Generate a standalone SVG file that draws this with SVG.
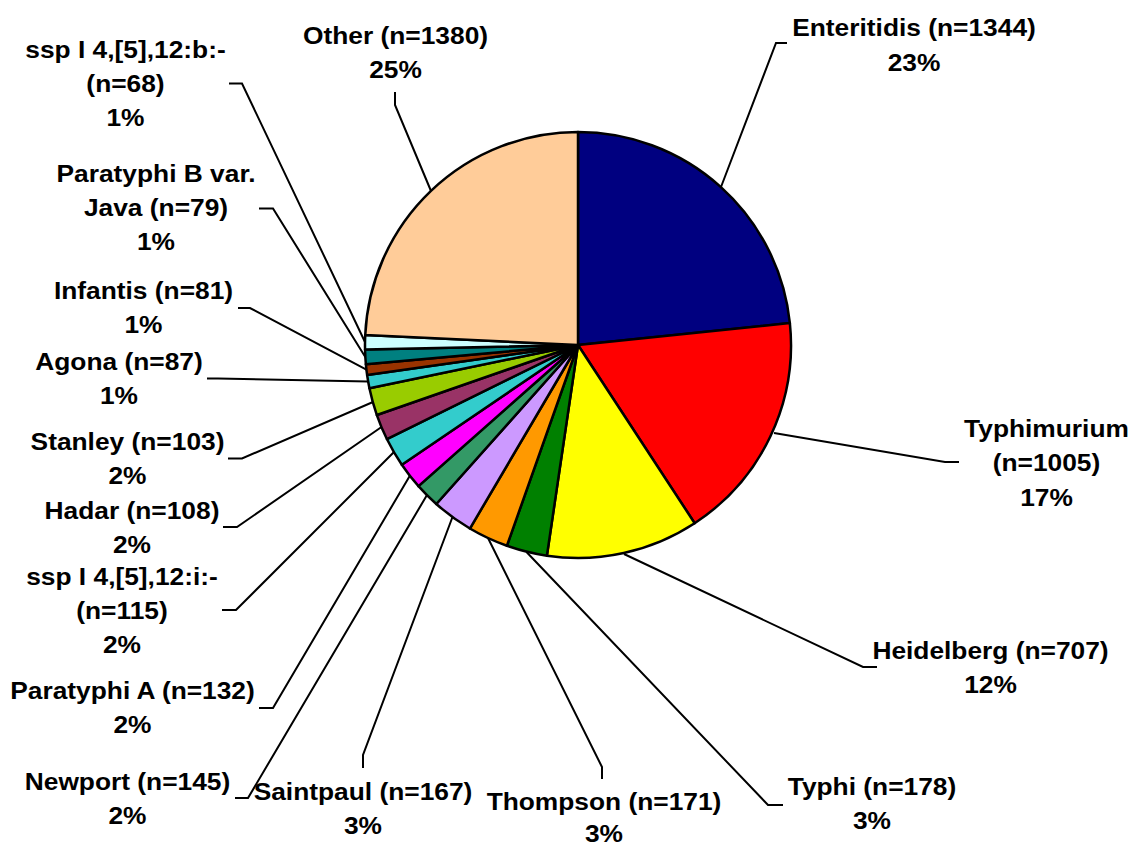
<svg xmlns="http://www.w3.org/2000/svg" width="1142" height="846" viewBox="0 0 1142 846">
<style>
.s{stroke:#000;stroke-width:2.5;stroke-linejoin:round}
.l{fill:none;stroke:#000;stroke-width:2}
text{font-family:"Liberation Sans",Arial,sans-serif;font-weight:bold;font-size:24.5px;fill:#000;text-anchor:middle}
</style>
<rect width="1142" height="846" fill="#fff"/>
<g id="pie">
<path id="s-enteritidis" class="s" fill="#000080" d="M578,345 L578,132 A213,213 0 0,1 789.87,323.11 Z"/>
<path id="s-typhimurium" class="s" fill="#FF0000" d="M578,345 L789.87,323.11 A213,213 0 0,1 694.66,523.21 Z"/>
<path id="s-heidelberg" class="s" fill="#FFFF00" d="M578,345 L694.66,523.21 A213,213 0 0,1 546.89,555.71 Z"/>
<path id="s-typhi" class="s" fill="#008000" d="M578,345 L546.89,555.71 A213,213 0 0,1 506.90,545.78 Z"/>
<path id="s-thompson" class="s" fill="#FF9900" d="M578,345 L506.90,545.78 A213,213 0 0,1 469.89,528.53 Z"/>
<path id="s-saintpaul" class="s" fill="#CC99FF" d="M578,345 L469.89,528.53 A213,213 0 0,1 436.31,504.03 Z"/>
<path id="s-newport" class="s" fill="#339966" d="M578,345 L436.31,504.03 A213,213 0 0,1 418.47,486.14 Z"/>
<path id="s-paratyphia" class="s" fill="#FF00FF" d="M578,345 L418.47,486.14 A213,213 0 0,1 401.83,464.72 Z"/>
<path id="s-sspi" class="s" fill="#33CCCC" d="M578,345 L401.83,464.72 A213,213 0 0,1 386.88,439.04 Z"/>
<path id="s-hadar" class="s" fill="#993366" d="M578,345 L386.88,439.04 A213,213 0 0,1 376.85,415.05 Z"/>
<path id="s-stanley" class="s" fill="#99CC00" d="M578,345 L376.85,415.05 A213,213 0 0,1 369.43,388.19 Z"/>
<path id="s-agona" class="s" fill="#33CCCC" d="M578,345 L369.43,388.19 A213,213 0 0,1 367.13,375.01 Z"/>
<path id="s-infantis" class="s" fill="#993300" d="M578,345 L367.13,375.01 A213,213 0 0,1 365.88,364.30 Z"/>
<path id="s-paratyphib" class="s" fill="#008080" d="M578,345 L365.88,364.30 A213,213 0 0,1 365.05,349.46 Z"/>
<path id="s-sspb" class="s" fill="#CCFFFF" d="M578,345 L365.05,349.46 A213,213 0 0,1 365.24,334.97 Z"/>
<path id="s-other" class="s" fill="#FFCC99" d="M578,345 L365.24,334.97 A213,213 0 0,1 578,132 Z"/>
</g>
<g id="connectors">
<polyline class="l" points="721,187 776,43 787,43"/>
<polyline class="l" points="774,433 945,462 959,462"/>
<polyline class="l" points="624,554 863,667 877,667"/>
<polyline class="l" points="526.5,552 768,805 783,805"/>
<polyline class="l" points="488,538 602,767 602,779"/>
<polyline class="l" points="452.5,517 363,755 363,768"/>
<polyline class="l" points="427,495 248,798 235,798"/>
<polyline class="l" points="410,475.5 273,708 259,708"/>
<polyline class="l" points="394,452 236,610 222,610"/>
<polyline class="l" points="381.5,427 237,527 223,527"/>
<polyline class="l" points="373,402 242,458.5 228,458.5"/>
<polyline class="l" points="368,381.6 218,378.5 207,378.5"/>
<polyline class="l" points="366.4,369.7 250,308 238,308"/>
<polyline class="l" points="365.3,357 273,208.5 259,208.5"/>
<polyline class="l" points="365,342 242,83.5 229,83.5"/>
<polyline class="l" points="431,191 395,105 395,92"/>
</g>
<g id="label-enteritidis"><text transform="translate(914,36) scale(1.075,1)"><tspan x="0" y="0">Enteritidis (n=1344)</tspan><tspan x="0" y="35">23%</tspan></text></g>
<g id="label-typhimurium"><text transform="translate(1046.5,437) scale(1.075,1)"><tspan x="0" y="0">Typhimurium</tspan><tspan x="0" y="34.5">(n=1005)</tspan><tspan x="0" y="69">17%</tspan></text></g>
<g id="label-heidelberg"><text transform="translate(990.5,659) scale(1.075,1)"><tspan x="0" y="0">Heidelberg (n=707)</tspan><tspan x="0" y="34.5">12%</tspan></text></g>
<g id="label-typhi"><text transform="translate(872,795) scale(1.075,1)"><tspan x="0" y="0">Typhi (n=178)</tspan><tspan x="0" y="34">3%</tspan></text></g>
<g id="label-thompson"><text transform="translate(604,810) scale(1.075,1)"><tspan x="0" y="0">Thompson (n=171)</tspan><tspan x="0" y="32">3%</tspan></text></g>
<g id="label-saintpaul"><text transform="translate(363,800) scale(1.075,1)"><tspan x="0" y="0">Saintpaul (n=167)</tspan><tspan x="0" y="34">3%</tspan></text></g>
<g id="label-newport"><text transform="translate(127.5,790) scale(1.075,1)"><tspan x="0" y="0">Newport (n=145)</tspan><tspan x="0" y="34">2%</tspan></text></g>
<g id="label-paratyphia"><text transform="translate(132.5,698.5) scale(1.075,1)"><tspan x="0" y="0">Paratyphi A (n=132)</tspan><tspan x="0" y="34.5">2%</tspan></text></g>
<g id="label-sspi"><text transform="translate(122,585) scale(1.075,1)"><tspan x="0" y="0">ssp I 4,[5],12:i:-</tspan><tspan x="0" y="34">(n=115)</tspan><tspan x="0" y="68">2%</tspan></text></g>
<g id="label-hadar"><text transform="translate(132,518.5) scale(1.075,1)"><tspan x="0" y="0">Hadar (n=108)</tspan><tspan x="0" y="34.5">2%</tspan></text></g>
<g id="label-stanley"><text transform="translate(127.5,449.5) scale(1.075,1)"><tspan x="0" y="0">Stanley (n=103)</tspan><tspan x="0" y="34.5">2%</tspan></text></g>
<g id="label-agona"><text transform="translate(119,369.5) scale(1.075,1)"><tspan x="0" y="0">Agona (n=87)</tspan><tspan x="0" y="34.5">1%</tspan></text></g>
<g id="label-infantis"><text transform="translate(143.5,298.5) scale(1.075,1)"><tspan x="0" y="0">Infantis (n=81)</tspan><tspan x="0" y="34.5">1%</tspan></text></g>
<g id="label-paratyphib"><text transform="translate(156,181.5) scale(1.075,1)"><tspan x="0" y="0">Paratyphi B var.</tspan><tspan x="0" y="34.5">Java (n=79)</tspan><tspan x="0" y="69">1%</tspan></text></g>
<g id="label-sspb"><text transform="translate(125.5,58) scale(1.075,1)"><tspan x="0" y="0">ssp I 4,[5],12:b:-</tspan><tspan x="0" y="34">(n=68)</tspan><tspan x="0" y="68.5">1%</tspan></text></g>
<g id="label-other"><text transform="translate(395.5,43.5) scale(1.075,1)"><tspan x="0" y="0">Other (n=1380)</tspan><tspan x="0" y="34.5">25%</tspan></text></g>
</svg>
